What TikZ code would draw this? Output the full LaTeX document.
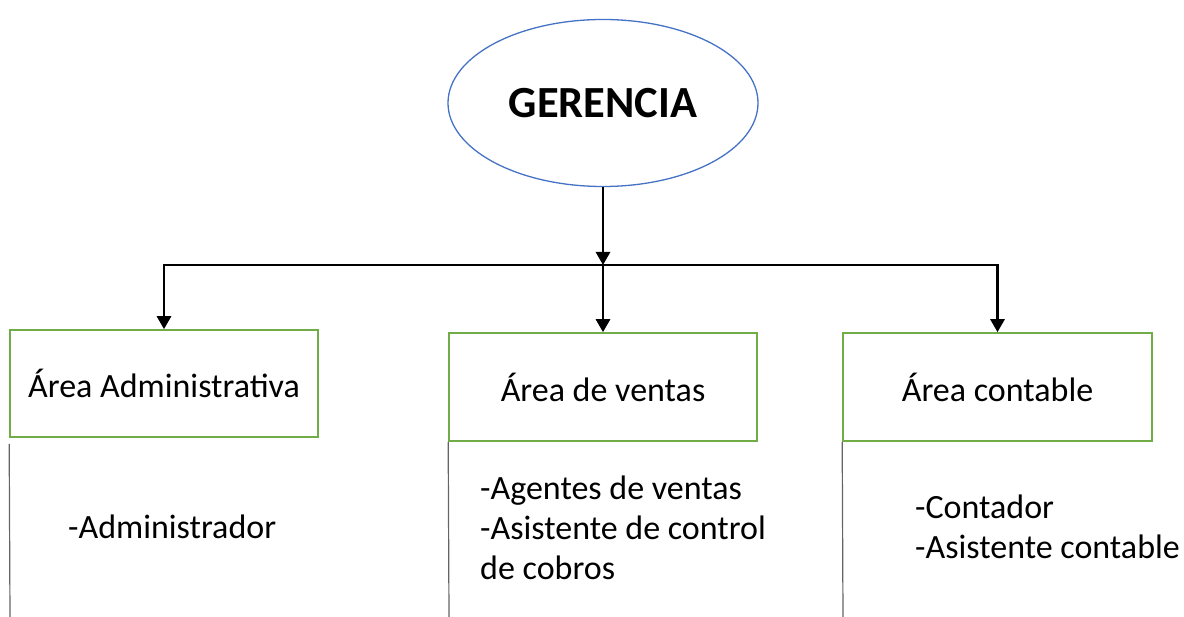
\documentclass[tikz,border=0pt]{standalone}
\usepackage{fontspec}
\setmainfont{Carlito}
\usetikzlibrary{shapes.geometric,arrows.meta}
\definecolor{ellblue}{RGB}{68,114,196}
\definecolor{boxgreen}{RGB}{112,173,71}
\definecolor{sidegray}{RGB}{100,100,100}
\tikzset{
  areabox/.style={draw=boxgreen, line width=1.6pt, minimum width=308pt, minimum height=107pt, inner sep=0pt, font=\fontsize{34}{40}\selectfont},
  conn/.style={draw=black, line width=2.8pt, -{Triangle[length=13pt,width=14pt]}},
  sideline/.style={draw=sidegray, line width=1.2pt},
  listtext/.style={anchor=west, align=left, inner sep=0pt, font=\fontsize{34}{40}\selectfont},
}
\begin{document}
\begin{tikzpicture}[x=1pt,y=-1pt]
\useasboundingbox (0,0) rectangle (1184,617);
\node[ellipse, draw=ellblue, line width=1.3pt, minimum width=310pt, minimum height=167pt, inner sep=0pt] (g) at (603,103) {\fontsize{44.5}{52}\selectfont\bfseries GERENCIA};
\node[areabox] (a) at (164,383.5) {Área Administrativa};
\node[areabox, minimum height=108pt] (b) at (603,387) {Área de ventas};
\node[areabox, minimum height=108pt, minimum width=309pt] (c) at (997.5,387) {Área contable};
\coordinate (j) at (603,265);
\draw[conn] (g.south) -- (j);
\draw[conn] (j) -| (a.north);
\draw[conn] (j) -| (c.north);
\draw[conn] (j) -- (b.north);
\coordinate (ae) at (10,617);
\coordinate (be) at (449,617);
\coordinate (ce) at (843,617);
\draw[sideline] ([yshift=-6pt]a.south west) -- (ae);
\draw[sideline] (b.south west) -- (be);
\draw[sideline] (c.south west) -- (ce);
\node[listtext] (ta) at (68,527) {-Administrador};
\node[listtext] (tb) at (480,528) {-Agentes de ventas\\-Asistente de control\\de cobros};
\node[listtext] (tc) at (915,527) {-Contador\\-Asistente contable};
\end{tikzpicture}
\end{document}
